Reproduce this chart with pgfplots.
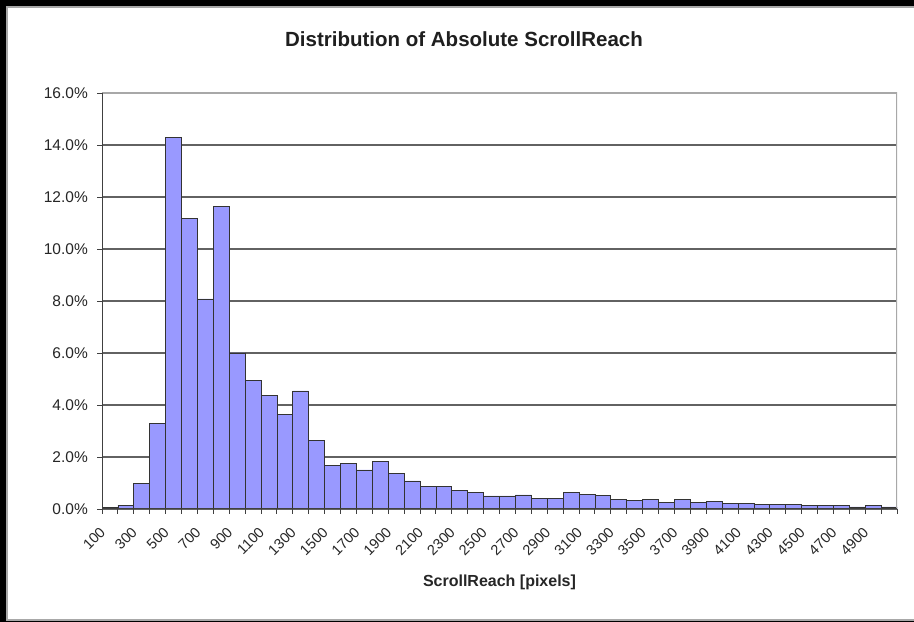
\documentclass[border=0pt]{standalone}
\usepackage{fontspec}
\setmainfont{Liberation Sans}
\usepackage{pgfplots}
\pgfplotsset{compat=1.18}
\definecolor{barfill}{HTML}{9999FF}
\definecolor{gridc}{HTML}{626262}
\definecolor{framec}{HTML}{A8A8A8}
\definecolor{axisc}{HTML}{404040}
\begin{document}
\begin{tikzpicture}[x=1bp,y=1bp]
\useasboundingbox (0,0) rectangle (914,622);
\fill[black] (0,0) rectangle (914,622);
\filldraw[fill=white, draw=framec, line width=1.5bp] (7,2) rectangle (918,615);
\begin{axis}[
  at={(102bp,113bp)}, anchor=south west,
  width=795bp, height=416bp, scale only axis,
  xmin=50, xmax=5050, ymin=0, ymax=16,
  axis line style={draw=none},
  ybar, bar width=100,
  /pgf/number format/.cd, 1000 sep={}, assume math mode=true, /pgfplots/.cd,
  xtick={100,300,...,4900},
  minor xtick={50,150,...,5050},
  ytick={0,2,...,16},
  minor ytick={0,2,...,16},
  xtick pos=left, ytick pos=left,
  tick align=outside,
  major tick length=0pt, minor tick length=5bp,
  minor tick style={axisc, line width=0.9bp},
  ymajorgrids, major grid style={gridc, line width=1.1bp},
  yticklabel={\pgfmathprintnumber[fixed,fixed zerofill,precision=1]{\tick}\%},
  yticklabel style={font=\fontsize{15.5bp}{18bp}\selectfont, text=black!85, anchor=east, inner sep=0pt, xshift=-14bp},
  xticklabel style={font=\fontsize{14.5bp}{17bp}\selectfont, text=black!85, inner sep=0pt, xshift=-11bp, yshift=-17bp, rotate=45, anchor=north east},
]
\addplot[fill=barfill, draw=black!80, line width=0.8bp] table[x=reach, y=pct] {
reach pct
100 0.05
200 0.15
300 0.99
400 3.30
500 14.30
600 11.18
700 8.08
800 11.65
900 6.00
1000 4.96
1100 4.38
1200 3.62
1300 4.54
1400 2.62
1500 1.69
1600 1.76
1700 1.50
1800 1.82
1900 1.38
2000 1.08
2100 0.88
2200 0.85
2300 0.72
2400 0.64
2500 0.50
2600 0.50
2700 0.54
2800 0.41
2900 0.41
3000 0.63
3100 0.56
3200 0.53
3300 0.35
3400 0.33
3500 0.35
3600 0.25
3700 0.35
3800 0.25
3900 0.29
4000 0.22
4100 0.22
4200 0.17
4300 0.17
4400 0.17
4500 0.14
4600 0.14
4700 0.14
4800 0.08
4900 0.15
5000 0.08
};
\draw[framec, line width=1.1bp] (rel axis cs:0,1) -- (rel axis cs:1,1) -- (rel axis cs:1,0);
\draw[axisc, line width=1.1bp] (rel axis cs:0,1) -- (rel axis cs:0,0) -- (rel axis cs:1,0);
\end{axis}
\node[anchor=base, inner sep=0pt, text=black!88] at (464,575.3) {\fontsize{20.5bp}{24bp}\selectfont\bfseries Distribution of Absolute ScrollReach};
\node[anchor=base, inner sep=0pt, text=black!85] at (499.5,35.3) {\fontsize{16bp}{19bp}\selectfont\bfseries ScrollReach [pixels]};
\end{tikzpicture}
\end{document}
